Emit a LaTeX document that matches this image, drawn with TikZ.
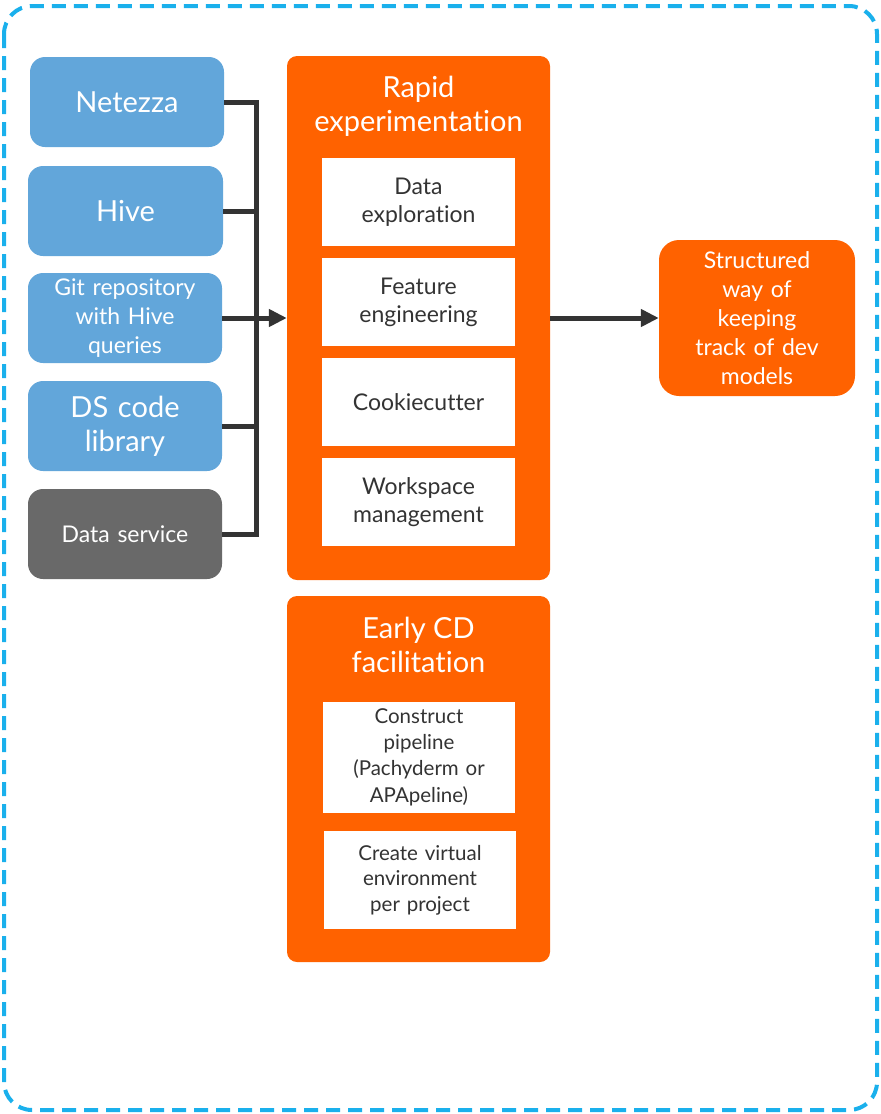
\documentclass[tikz,border=0pt]{standalone}
\usepackage{fontspec}
\setmainfont{Lato}[Ligatures=NoCommon]
\usetikzlibrary{positioning,arrows.meta}
\definecolor{srcblue}{HTML}{62A6DA}
\definecolor{srcgray}{HTML}{696969}
\definecolor{ingorange}{HTML}{FF6200}
\definecolor{framecyan}{HTML}{1AB0EC}
\definecolor{wiregray}{HTML}{333333}
\newcommand{\fsz}[2]{\fontsize{#1}{#2}\selectfont}

\begin{document}
\begin{tikzpicture}[x=1pt, y=-1pt, node distance=11.5pt,
  srcbox/.style={fill=srcblue, rounded corners=15pt, minimum width=194pt, minimum height=90pt,
    text width=180pt, align=center, text=white, inner sep=0pt},
  grpbox/.style={fill=ingorange, rounded corners=10pt, minimum width=263pt, inner sep=0pt},
  grptitle/.style={text=white, align=center, inner sep=0pt, font=\fsz{29}{34}},
  itembox/.style={fill=white, minimum width=193pt, minimum height=88pt, text width=185pt,
    align=center, text=wiregray, inner sep=0pt, font=\fsz{23}{28}},
  wire/.style={draw=wiregray, line width=5pt},
  tip/.style={-{Triangle[length=18pt,width=17pt]}}]
  \useasboundingbox (0,0) rectangle (881,1114);
  \draw[framecyan, line width=4pt, dash pattern=on 14pt off 8pt, rounded corners=28pt]
    (4,6) rectangle (877,1110);

  % sources
  \node(net)[srcbox, font=\fsz{29}{34}] at (127,102) {Netezza};
  \node(hive)[srcbox, font=\fsz{29}{34}, minimum width=195pt] at (125.5,211) {Hive};
  \node(git)[srcbox, font=\fsz{23}{29}] at (125,318) {Git repository\\with Hive\\queries};
  \node(dslib)[srcbox, font=\fsz{29}{34}] at (125,426) {DS code\\library};
  \node(svc)[srcbox, fill=srcgray, font=\fsz{23}{28}] at (125,534) {Data service};

  % rapid experimentation
  \node(rapid)[grpbox, minimum height=524pt] at (418.5,318) {};
  \node(rapidttl)[grptitle] at (418.5,106) {Rapid\\experimentation};
  \node(dataexp)[itembox] at (418.5,202) {Data\\exploration};
  \node(feat)[itembox, below=of dataexp] {Feature\\engineering};
  \node(cookie)[itembox, below=of feat] {Cookiecutter};
  \node(wsm)[itembox, below=of cookie] {Workspace\\management};

  % early CD
  \node(early)[grpbox, minimum height=366pt] at (418.5,779) {};
  \node(earlyttl)[grptitle] at (418.5,645) {Early CD\\facilitation};
  \node(pipe)[itembox, minimum width=192pt, minimum height=111pt, font=\fsz{20.5}{26.3}]
    at (419,757) {Construct\\pipeline\\(Pachyderm or\\APApeline)};
  \node(venv)[itembox, minimum width=192pt, minimum height=98pt, font=\fsz{20.5}{25.5}]
    at (420,880) {Create virtual\\environment\\per project};

  % outcome
  \node(track)[grpbox, rounded corners=20pt, minimum width=196pt, minimum height=156pt,
    text width=180pt, align=center, text=white, font=\fsz{23}{29}]
    at (757,318) {Structured\\way of\\keeping\\track of dev\\models};

  % connectors
  \coordinate (bus) at (256,0);
  \draw[wire] (net.east) -| (bus |- svc.east) -- (svc.east);
  \draw[wire] (hive.east) -- (bus |- hive.east);
  \draw[wire] (dslib.east) -- (bus |- dslib.east);
  \draw[wire, tip] (git.east) -- (rapid.west |- git.east);
  \draw[wire, tip] (rapid.east) -- (track.west);
\end{tikzpicture}
\end{document}
